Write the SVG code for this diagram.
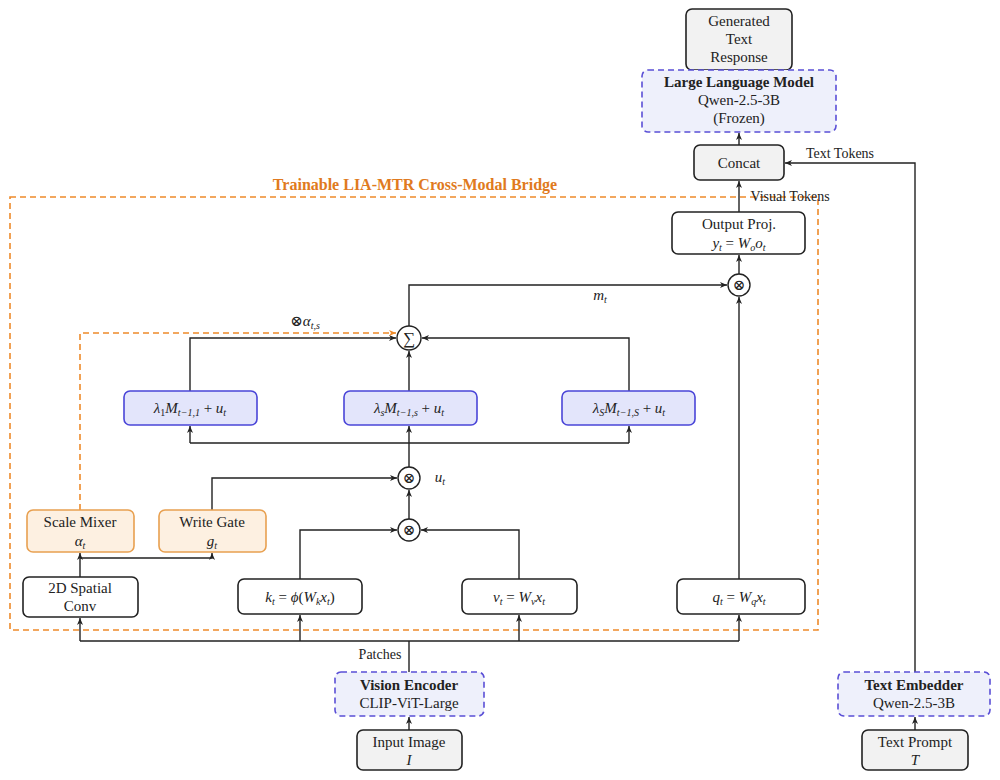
<svg xmlns="http://www.w3.org/2000/svg" width="1000" height="780" viewBox="0 0 1000 780">
<style>
text{font-family:"Liberation Serif","DejaVu Serif",serif;font-size:15px;fill:#222;text-anchor:middle}
.b{fill:#fff;stroke:#222;stroke-width:1.6}
.g{fill:#f2f2f2;stroke:#222;stroke-width:1.6}
.bl{fill:#eef0fb;stroke:#5a4fd6;stroke-width:1.6;stroke-dasharray:6,4}
.bs{fill:#e3e5fb;stroke:#4a45d8;stroke-width:1.6}
.o{fill:#fdf0e1;stroke:#e8a050;stroke-width:1.6}
.c{fill:none;stroke:#222;stroke-width:1.4}
.od{fill:none;stroke:#ee8a2a;stroke-width:1.6;stroke-dasharray:6,4}
.op{fill:#fff;stroke:#222;stroke-width:1.4}
.i{font-style:italic}
.bo{font-weight:bold}
</style>
<defs>
<marker id="a" markerWidth="8" markerHeight="8" refX="7" refY="4" orient="auto" markerUnits="userSpaceOnUse"><path d="M0,1 L7,4 L0,7 L2,4z" fill="#222"/></marker>
<marker id="ao" markerWidth="8" markerHeight="8" refX="7" refY="4" orient="auto" markerUnits="userSpaceOnUse"><path d="M0,1 L7,4 L0,7 L2,4z" fill="#ee8a2a"/></marker>
</defs>
<rect class="od" x="10" y="197" width="808" height="433"/>
<text x="415" y="190" class="bo" style="fill:#e07a20;font-size:16px">Trainable LIA-MTR Cross-Modal Bridge</text>
<g id="connectors">
<path class="c" d="M739,70 V66" marker-end="url(#a)"/>
<path class="c" d="M739,145 V133" marker-end="url(#a)"/>
<path class="c" d="M739,212 V181" marker-end="url(#a)"/>
<path class="c" d="M739,274 V255" marker-end="url(#a)"/>
<path class="c" d="M915,672 V163 H785" marker-end="url(#a)"/>
<path class="c" d="M409,326 V285 H727" marker-end="url(#a)"/>
<path class="c" d="M739,579 V297" marker-end="url(#a)"/>
<path class="c" d="M190,391 V338 H396" marker-end="url(#a)"/>
<path class="c" d="M629,391 V338 H422" marker-end="url(#a)"/>
<path class="c" d="M409,391 V351" marker-end="url(#a)"/>
<path class="od" d="M80,510 V333 H396" marker-end="url(#ao)"/>
<path class="c" d="M409,467 V443 M190,443 H629" />
<path class="c" d="M190,443 V426" marker-end="url(#a)"/>
<path class="c" d="M409,443 V426" marker-end="url(#a)"/>
<path class="c" d="M629,443 V426" marker-end="url(#a)"/>
<path class="c" d="M212,510 V478 H397" marker-end="url(#a)"/>
<path class="c" d="M409,519 V490" marker-end="url(#a)"/>
<path class="c" d="M300,579 V530 H397" marker-end="url(#a)"/>
<path class="c" d="M519,579 V530 H421" marker-end="url(#a)"/>
<path class="c" d="M80,577 V553" marker-end="url(#a)"/>
<path class="c" d="M80,558 H212 V553" marker-end="url(#a)"/>
<path class="c" d="M409,672 V641 M80,641 H739"/>
<path class="c" d="M80,641 V618" marker-end="url(#a)"/>
<path class="c" d="M300,641 V615" marker-end="url(#a)"/>
<path class="c" d="M519,641 V615" marker-end="url(#a)"/>
<path class="c" d="M739,641 V615" marker-end="url(#a)"/>
<path class="c" d="M409,730 V717" marker-end="url(#a)"/>
<path class="c" d="M915,730 V717" marker-end="url(#a)"/>
<text x="380" y="659" style="font-size:14px">Patches</text>
<text x="790" y="201" style="font-size:14px">Visual Tokens</text>
<text x="840" y="158" style="font-size:14px">Text Tokens</text>
<text x="600" y="300" class="i">m<tspan font-size="10" dy="3">t</tspan></text>
<text x="305" y="326" class="i">⊗α<tspan font-size="10" dy="3">t,s</tspan></text>
<text x="440" y="482" class="i">u<tspan font-size="10" dy="3">t</tspan></text>
</g>
<g id="gen"><rect class="g" x="686" y="9" width="106" height="61" rx="6"/><text x="739" y="26">Generated</text><text x="739" y="44">Text</text><text x="739" y="62">Response</text></g>
<g id="llm"><rect class="bl" x="642" y="70" width="194" height="62" rx="6"/><text x="739" y="87" class="bo">Large Language Model</text><text x="739" y="105">Qwen-2.5-3B</text><text x="739" y="123">(Frozen)</text></g>
<g id="concat"><rect class="g" x="694" y="145" width="90" height="35" rx="6"/><text x="739" y="168">Concat</text></g>
<g id="outproj"><rect class="b" x="672" y="212" width="133" height="42" rx="6"/><text x="739" y="229">Output Proj.</text><text x="739" y="248" class="i">y<tspan font-size="10" dy="3">t</tspan><tspan dy="-3" font-style="normal"> = </tspan>W<tspan font-size="10" dy="3">o</tspan><tspan dy="-3">o</tspan><tspan font-size="10" dy="3">t</tspan></text></g>
<g id="mult-out"><circle class="op" cx="739" cy="285" r="11"/><text x="739" y="290">⊗</text></g>
<g id="sum"><circle class="op" cx="409" cy="338" r="12"/><text x="409" y="344" style="font-size:17px">∑</text></g>
<g id="m1"><rect class="bs" x="124" y="391" width="133" height="34" rx="6"/><text x="190" y="413" class="i">λ<tspan font-size="10" dy="3" font-style="normal">1</tspan><tspan dy="-3">M</tspan><tspan font-size="10" dy="3">t−1,1</tspan><tspan dy="-3" font-style="normal"> + </tspan>u<tspan font-size="10" dy="3">t</tspan></text></g>
<g id="ms"><rect class="bs" x="344" y="391" width="133" height="34" rx="6"/><text x="409" y="413" class="i">λ<tspan font-size="10" dy="3">s</tspan><tspan dy="-3">M</tspan><tspan font-size="10" dy="3">t−1,s</tspan><tspan dy="-3" font-style="normal"> + </tspan>u<tspan font-size="10" dy="3">t</tspan></text></g>
<g id="mS"><rect class="bs" x="562" y="391" width="133" height="34" rx="6"/><text x="629" y="413" class="i">λ<tspan font-size="10" dy="3">S</tspan><tspan dy="-3">M</tspan><tspan font-size="10" dy="3">t−1,S</tspan><tspan dy="-3" font-style="normal"> + </tspan>u<tspan font-size="10" dy="3">t</tspan></text></g>
<g id="mult-u"><circle class="op" cx="409" cy="478" r="11"/><text x="409" y="483">⊗</text></g>
<g id="mult-kv"><circle class="op" cx="409" cy="530" r="11"/><text x="409" y="535">⊗</text></g>
<g id="mixer"><rect class="o" x="27" y="510" width="107" height="42" rx="6"/><text x="80" y="527">Scale Mixer</text><text x="80" y="546" class="i">α<tspan font-size="10" dy="3">t</tspan></text></g>
<g id="gate"><rect class="o" x="159" y="510" width="107" height="42" rx="6"/><text x="212" y="527">Write Gate</text><text x="212" y="546" class="i">g<tspan font-size="10" dy="3">t</tspan></text></g>
<g id="conv"><rect class="b" x="23" y="577" width="115" height="40" rx="6"/><text x="80" y="593">2D Spatial</text><text x="80" y="611">Conv</text></g>
<g id="k"><rect class="b" x="238" y="579" width="124" height="35" rx="6"/><text x="300" y="602" class="i">k<tspan font-size="10" dy="3">t</tspan><tspan dy="-3" font-style="normal"> = </tspan>ϕ<tspan font-style="normal">(</tspan>W<tspan font-size="10" dy="3">k</tspan><tspan dy="-3">x</tspan><tspan font-size="10" dy="3">t</tspan><tspan dy="-3" font-style="normal">)</tspan></text></g>
<g id="v"><rect class="b" x="462" y="579" width="115" height="35" rx="6"/><text x="519" y="602" class="i">v<tspan font-size="10" dy="3">t</tspan><tspan dy="-3" font-style="normal"> = </tspan>W<tspan font-size="10" dy="3">v</tspan><tspan dy="-3">x</tspan><tspan font-size="10" dy="3">t</tspan></text></g>
<g id="q"><rect class="b" x="677" y="579" width="128" height="35" rx="6"/><text x="739" y="602" class="i">q<tspan font-size="10" dy="3">t</tspan><tspan dy="-3" font-style="normal"> = </tspan>W<tspan font-size="10" dy="3">q</tspan><tspan dy="-3">x</tspan><tspan font-size="10" dy="3">t</tspan></text></g>
<g id="vision"><rect class="bl" x="335" y="672" width="149" height="44" rx="6"/><text x="409" y="690" class="bo">Vision Encoder</text><text x="409" y="708">CLIP-ViT-Large</text></g>
<g id="image"><rect class="g" x="357" y="730" width="105" height="40" rx="6"/><text x="409" y="747">Input Image</text><text x="409" y="765" class="i">I</text></g>
<g id="textemb"><rect class="bl" x="838" y="672" width="152" height="44" rx="6"/><text x="914" y="690" class="bo">Text Embedder</text><text x="914" y="708">Qwen-2.5-3B</text></g>
<g id="prompt"><rect class="g" x="862" y="730" width="106" height="40" rx="6"/><text x="915" y="747">Text Prompt</text><text x="915" y="765" class="i">T</text></g>
</svg>
